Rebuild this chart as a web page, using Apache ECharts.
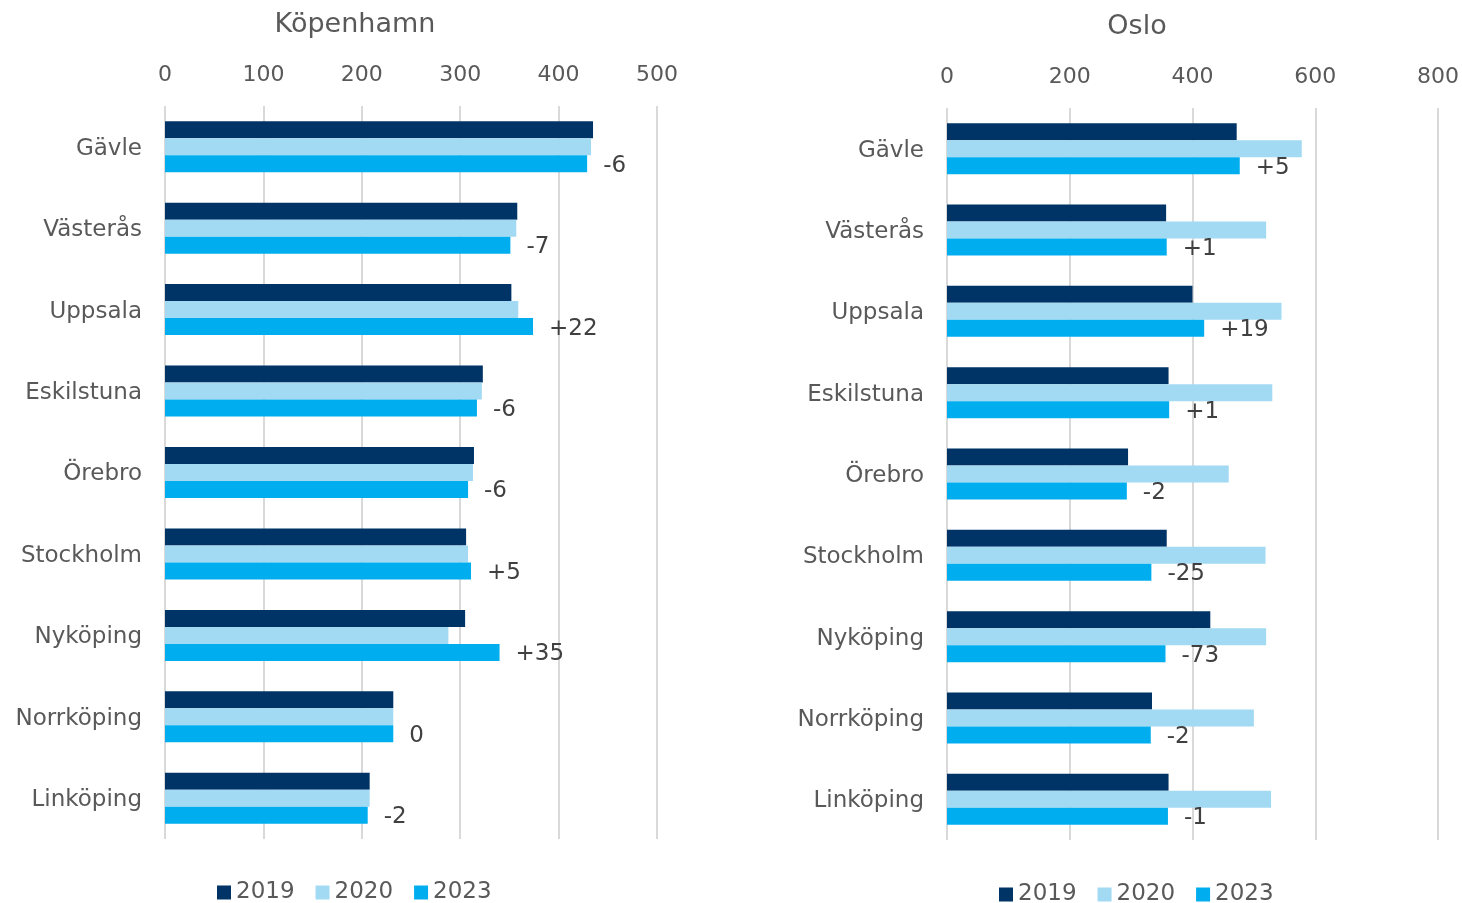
<!DOCTYPE html>
<html>
<head>
<meta charset="utf-8">
<script src="https://cdn.jsdelivr.net/npm/echarts@6/dist/echarts.min.js"></script>
<style>
  html, body { margin: 0; padding: 0; background: #fff; }
  #chart { width: 1462px; height: 903px; }
</style>
</head>
<body>
<div id="chart"></div>
<script>
// städer (samma ordning i båda diagrammen)
const cities = ['Gävle', 'Västerås', 'Uppsala', 'Eskilstuna', 'Örebro', 'Stockholm', 'Nyköping', 'Norrköping', 'Linköping'];
const years = ['2019', '2020', '2023'];

// Köpenhamn
const kop2019 = [435, 358, 352, 323, 314, 306, 305, 232, 208];
const kop2020 = [433, 357, 359, 322, 313, 308, 288, 232, 208];
const kop2023 = [429, 351, 374, 317, 308, 311, 340, 232, 206];
const kopChange = ['-6', '-7', '+22', '-6', '-6', '+5', '+35', '0', '-2'];

// Oslo
const osl2019 = [472, 357, 400, 361, 295, 358, 429, 334, 361];
const osl2020 = [578, 520, 545, 530, 459, 519, 520, 500, 528];
const osl2023 = [477, 358, 419, 362, 293, 333, 356, 332, 360];
const oslChange = ['+5', '+1', '+19', '+1', '-2', '-25', '-73', '-2', '-1'];

const kopTicks = { max: 500, interval: 100 };
const oslTicks = { max: 800, interval: 200 };

const colors = ['#003366', '#a3daf3', '#00aeef'];
const font = 'DejaVu Sans';

function xAxisFor(idx, ticks) {
    return {
        type: 'value', gridIndex: idx, position: 'top',
        min: 0, max: ticks.max, interval: ticks.interval,
        axisLine: { show: false }, axisTick: { show: false },
        axisLabel: { color: '#595959', fontSize: 22, fontFamily: font, margin: 20 },
        splitLine: { lineStyle: { color: '#d9d9d9', width: 2 } }
    };
}
function yAxisFor(idx) {
    return {
        type: 'category', gridIndex: idx, data: cities, inverse: true,
        axisLine: { show: false }, axisTick: { show: false },
        axisLabel: {
            color: '#595959', fontSize: 23, fontFamily: font, margin: 23,
            formatter: function(v) { return '{c|' + v + '}'; },
            rich: { c: { color: '#595959', fontSize: 23, fontFamily: font, padding: [4, 0, 0, 0] } }
        }
    };
}
function barsFor(idx, data, change) {
    return data.map(function(vals, i) {
        let s = {
            name: years[i], type: 'bar', xAxisIndex: idx, yAxisIndex: idx,
            data: vals, barWidth: 17, barGap: 0,
            itemStyle: { color: colors[i] }
        };
        if (i == 2) {
            s.label = {
                show: true, position: 'right', distance: 16, offset: [0, 2],
                color: '#404040', fontSize: 23, fontFamily: font,
                formatter: function(p) { return change[p.dataIndex]; }
            };
        }
        return s;
    });
}

const chart = echarts.init(document.getElementById('chart'));
chart.setOption({
    animation: false,
    color: colors,
    title: [
        { text: 'Köpenhamn', left: 350, top: 6, textAlign: 'center',
          textStyle: { color: '#595959', fontSize: 27, fontWeight: 'normal', fontFamily: font } },
        { text: 'Oslo', left: 1132, top: 8, textAlign: 'center',
          textStyle: { color: '#595959', fontSize: 27, fontWeight: 'normal', fontFamily: font } }
    ],
    legend: [
        { data: years, left: 212, top: 876, itemWidth: 14, itemHeight: 14, itemGap: 21, icon: 'rect',
          textStyle: { color: '#595959', fontSize: 23, fontFamily: font } },
        { data: years, left: 994, top: 878, itemWidth: 14, itemHeight: 14, itemGap: 21, icon: 'rect',
          textStyle: { color: '#595959', fontSize: 23, fontFamily: font } }
    ],
    grid: [
        { left: 165, top: 106, width: 492, height: 733 },
        { left: 947, top: 108, width: 492, height: 732 }
    ],
    xAxis: [xAxisFor(0, kopTicks), xAxisFor(1, oslTicks)],
    yAxis: [yAxisFor(0), yAxisFor(1)],
    series: barsFor(0, [kop2019, kop2020, kop2023], kopChange)
        .concat(barsFor(1, [osl2019, osl2020, osl2023], oslChange))
});
</script>
</body>
</html>
